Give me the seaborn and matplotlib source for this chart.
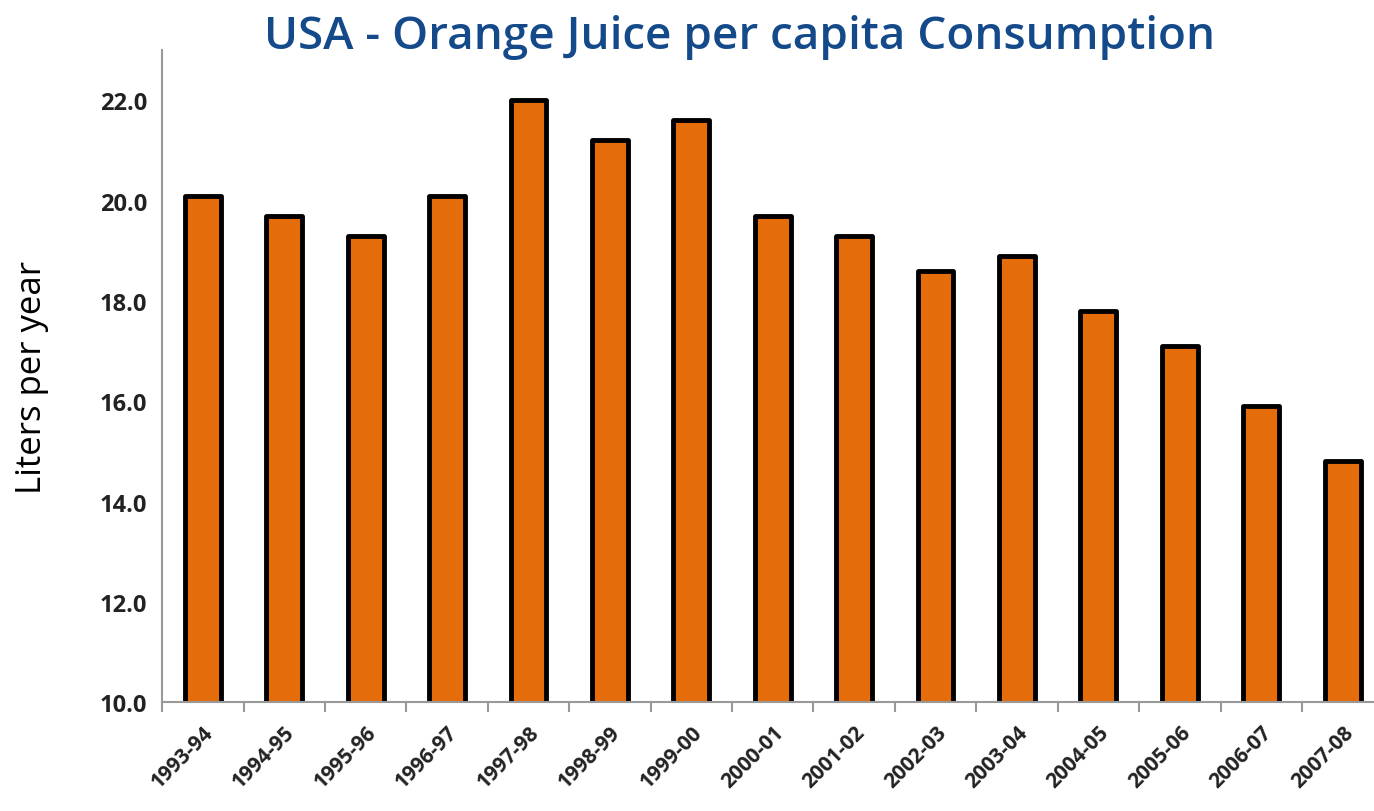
import matplotlib
matplotlib.use("Agg")
import matplotlib.pyplot as plt
import seaborn as sns
import pandas as pd
import numpy as np

# Chart data
seasons = ["1993-94", "1994-95", "1995-96", "1996-97", "1997-98", "1998-99", "1999-00",
           "2000-01", "2001-02", "2002-03", "2003-04", "2004-05", "2005-06", "2006-07", "2007-08"]
liters = [20.1, 19.7, 19.3, 20.1, 22.0, 21.2, 21.6, 19.7, 19.3, 18.6, 18.9, 17.8, 17.1, 15.9, 14.8]
y_ticks = [10.0, 12.0, 14.0, 16.0, 18.0, 20.0, 22.0]

sns.set_style("white")
plt.rcParams["font.family"] = ["Open Sans", "DejaVu Sans"]

df = pd.DataFrame({"season": seasons, "liters": liters})

fig = plt.figure(figsize=(13.74, 8.12), dpi=100)
ax = fig.add_axes([0.118, 0.134, 0.89, 0.803])

sns.barplot(data=df, x="season", y="liters", color="#E46C0A", saturation=1,
            width=0.44, edgecolor="black", linewidth=3.5, ax=ax)
for p in ax.patches:
    p.set_joinstyle("round")

ax.set_ylim(10, 23)
ax.set_xlim(-0.5, 14.52)
ax.set_yticks(y_ticks)
ax.set_yticklabels([f"{v:.1f}" for v in y_ticks], fontsize=17, fontweight="bold", color="#222222")
ax.set_xticks(range(len(seasons)))
ax.set_xticklabels(seasons, rotation=45, ha="right", rotation_mode="anchor",
                   fontsize=15, fontweight="bold", color="#222222")
ax.set_xticks(np.arange(-0.5, len(seasons), 1), minor=True)
ax.tick_params(axis="x", which="major", length=0, pad=14)
ax.tick_params(axis="x", which="minor", length=7, width=1.5, color="#999999", direction="out")
ax.tick_params(axis="y", length=7, width=1.5, color="#999999", direction="out", pad=4)
ax.tick_params(axis="x", which="both", bottom=True)

for side in ["top", "right"]:
    ax.spines[side].set_visible(False)
for side in ["left", "bottom"]:
    ax.spines[side].set_color("#999999")
    ax.spines[side].set_linewidth(1.5)

ax.set_xlabel("")
ax.set_ylabel("Liters per year", fontsize=25, color="black", labelpad=36)
fig.suptitle("USA - Orange Juice per capita Consumption", x=0.538, y=0.982,
             fontsize=33, fontweight="semibold", color="#154A8A")

fig.savefig("out.png", dpi=100)
